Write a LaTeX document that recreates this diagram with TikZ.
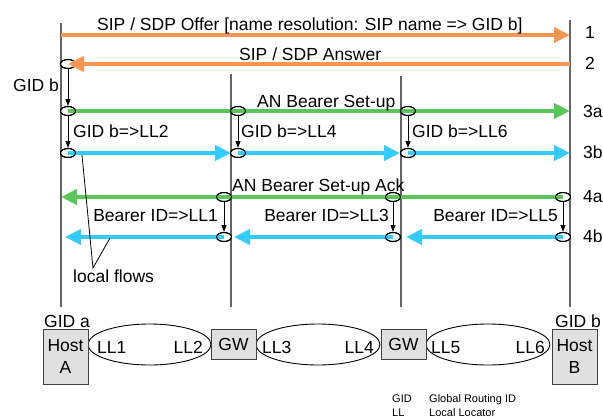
\documentclass[tikz,border=0pt]{standalone}
\usepackage{fontspec}
\setmainfont{Liberation Sans}
\usetikzlibrary{arrows.meta,shapes.geometric}

\definecolor{sigorange}{RGB}{250,150,80}
\definecolor{bearergreen}{RGB}{90,198,90}
\definecolor{flowblue}{RGB}{51,204,255}
\definecolor{lifeline}{RGB}{100,100,100}
\definecolor{boxfill}{RGB}{224,224,224}

\tikzset{
  lbl/.style={inner sep=0pt, font=\fontsize{17.5}{21}\selectfont},
  small/.style={inner sep=0pt, font=\fontsize{11}{13}\selectfont},
  vline/.style={draw=lifeline, line width=1.4pt},
  flow/.style={line width=4.5pt, -{Triangle[length=16pt,width=15pt]}},
  hop/.style={ellipse, draw, fill=white, line width=1pt, minimum width=15pt,
              minimum height=9pt, inner sep=0pt},
  hopline/.style={line width=1pt},
  down/.style={line width=0.9pt, -{Triangle[length=7pt,width=5pt]}},
  hostbox/.style={draw=black!75, fill=boxfill, line width=1pt, inner sep=0pt,
                  align=center, font=\fontsize{17.5}{22}\selectfont},
  lldomain/.style={ellipse, draw, line width=0.9pt, inner sep=0pt},
  leader/.style={line width=0.8pt}
}

\begin{document}
\begin{tikzpicture}[x=1pt, y=-1pt]
\useasboundingbox (0,0) rectangle (603,418);

% lifelines
\coordinate (At) at (61,23);  \coordinate (Ab) at (61,307);
\coordinate (Bt) at (231,74); \coordinate (Bb) at (231,307);
\coordinate (Ct) at (401,76); \coordinate (Cb) at (401,307);
\coordinate (Dt) at (570,20); \coordinate (Db) at (570,307);
\draw[vline] (At) -- (Ab);
\draw[vline] (Bt) -- (Bb);
\draw[vline] (Ct) -- (Cb);
\draw[vline] (Dt) -- (Db);

% hop markers (white fill first, outlines redrawn on top of the flows)
\node[hop] (e2)   at (68,64) {};
\node[hop] (e3a1) at (68,111) {};
\node[hop] (e3a2) at (238,111) {};
\node[hop] (e3a3) at (408,111) {};
\node[hop] (e3b1) at (68,153) {};
\node[hop] (e3b2) at (238,153) {};
\node[hop] (e3b3) at (408,153) {};
\node[hop] (e4a1) at (224,197) {};
\node[hop] (e4a2) at (393,197) {};
\node[hop] (e4a3) at (563,197) {};
\node[hop] (e4b1) at (224,237) {};
\node[hop] (e4b2) at (393,237) {};
\node[hop] (e4b3) at (563,237) {};

% end points of the flows
\coordinate (o1s) at (61,35);   \coordinate (o1e) at (570,35);
\coordinate (o2s) at (570,64);
\coordinate (g3e) at (570,111);
\coordinate (b3e1) at (231,153); \coordinate (b3e2) at (400,153); \coordinate (b3e3) at (570,153);
\coordinate (g4e) at (61,197);
\coordinate (b4e1) at (65,237);  \coordinate (b4e2) at (234,237); \coordinate (b4e3) at (406,237);

% flows
\draw[flow, sigorange] (o1s) -- (o1e);
\draw[flow, bearergreen] (e3a1.center) -- (g3e);
\draw[flow, flowblue] (e3b1.center) -- (b3e1);
\draw[flow, flowblue] (e3b2.center) -- (b3e2);
\draw[flow, flowblue] (e3b3.center) -- (b3e3);
\draw[flow, bearergreen] (e4a3.center) -- (g4e);
\draw[flow, flowblue] (e4b1.center) -- (b4e1);
\draw[flow, flowblue] (e4b2.center) -- (b4e2);
\draw[flow, flowblue] (e4b3.center) -- (b4e3);

% hop outlines
\foreach \e in {e3a1,e3a2,e3a3,e3b1,e3b2,e3b3,e4a1,e4a2,e4a3,e4b1,e4b2,e4b3,e2}
  \draw[hopline] (\e.center) ellipse [x radius=7.5pt, y radius=4.5pt];
\draw[flow, sigorange] (o2s) -- (e2.center);

% lookups between hops
\draw[down] (e2.south) -- (e3a1.north);
\draw[down] (e3a1.south) -- (e3b1.north);
\draw[down] (e3a2.south) -- (e3b2.north);
\draw[down] (e3a3.south) -- (e3b3.north);
\draw[down] (e4a1.south) -- (e4b1.north);
\draw[down] (e4a2.south) -- (e4b2.north);
\draw[down] (e4a3.south) -- (e4b3.north);

% message labels
\node[lbl, anchor=base west] (t1) at (97,30) {SIP / SDP Offer [name resolution: SIP name => GID b]};
\node[lbl, anchor=base west] (t2) at (239,60) {SIP / SDP Answer};
\node[lbl, anchor=base west] (tg) at (13,91) {GID b};
\node[lbl, anchor=base west] (t3a) at (257,107) {AN Bearer Set-up};
\node[lbl, anchor=base west] (m1) at (73,137) {GID b=>LL2};
\node[lbl, anchor=base west] (m2) at (241,137) {GID b=>LL4};
\node[lbl, anchor=base west] (m3) at (412,137) {GID b=>LL6};
\node[lbl, anchor=base west] (t4a) at (232,191) {AN Bearer Set-up Ack};
\node[lbl, anchor=base east] (r1) at (218,221) {Bearer ID=>LL1};
\node[lbl, anchor=base east] (r2) at (389,221) {Bearer ID=>LL3};
\node[lbl, anchor=base east] (r3) at (558,221) {Bearer ID=>LL5};

% step numbers
\node[lbl, anchor=base west] (n1) at (585,38) {1};
\node[lbl, anchor=base west] (n2) at (585,69) {2};
\node[lbl, anchor=base west] (n3a) at (583,117) {3a};
\node[lbl, anchor=base west] (n3b) at (583,158) {3b};
\node[lbl, anchor=base west] (n4a) at (583,202) {4a};
\node[lbl, anchor=base west] (n4b) at (583,242) {4b};

% local flows annotation
\node[lbl, anchor=base west] (lf) at (73,282) {local flows};
\coordinate (lfp) at (93,268);
\coordinate (lf1) at (82,155);
\coordinate (lf2) at (110,238);
\draw[leader] (lf1) -- (lfp) -- (lf2);

% network: hosts, gateways and local domains
\node[lldomain, minimum width=123pt, minimum height=41pt] (d1) at (149.5,344.5) {};
\node[lldomain, minimum width=124pt, minimum height=41pt] (d2) at (318,344.5) {};
\node[lldomain, minimum width=124pt, minimum height=41pt] (d3) at (488,344.5) {};

\node[hostbox, minimum width=45pt, minimum height=55pt] (ha) at (65.5,356.5) {Host\\A};
\node[hostbox, minimum width=45pt, minimum height=30pt] (gw1) at (233.5,344) {GW};
\node[hostbox, minimum width=45pt, minimum height=30pt] (gw2) at (403.5,344) {GW};
\node[hostbox, minimum width=45pt, minimum height=55pt] (hb) at (574.5,356.5) {Host\\B};

\node[lbl, anchor=base west] (ga) at (44,327) {GID a};
\node[lbl, anchor=base west] (gb) at (555,327) {GID b};

\node[lbl, anchor=base west] (l1) at (97,353) {LL1};
\node[lbl, anchor=base east] (l2) at (203,353) {LL2};
\node[lbl, anchor=base west] (l3) at (262,353) {LL3};
\node[lbl, anchor=base east] (l4) at (374,353) {LL4};
\node[lbl, anchor=base west] (l5) at (431,353) {LL5};
\node[lbl, anchor=base east] (l6) at (545,353) {LL6};

% legend
\node[small, anchor=base west] (k1) at (392,402) {GID};
\node[small, anchor=base west] (v1) at (429,402) {Global Routing ID};
\node[small, anchor=base west] (k2) at (392,416) {LL};
\node[small, anchor=base west] (v2) at (429,416) {Local Locator};
\end{tikzpicture}
\end{document}
